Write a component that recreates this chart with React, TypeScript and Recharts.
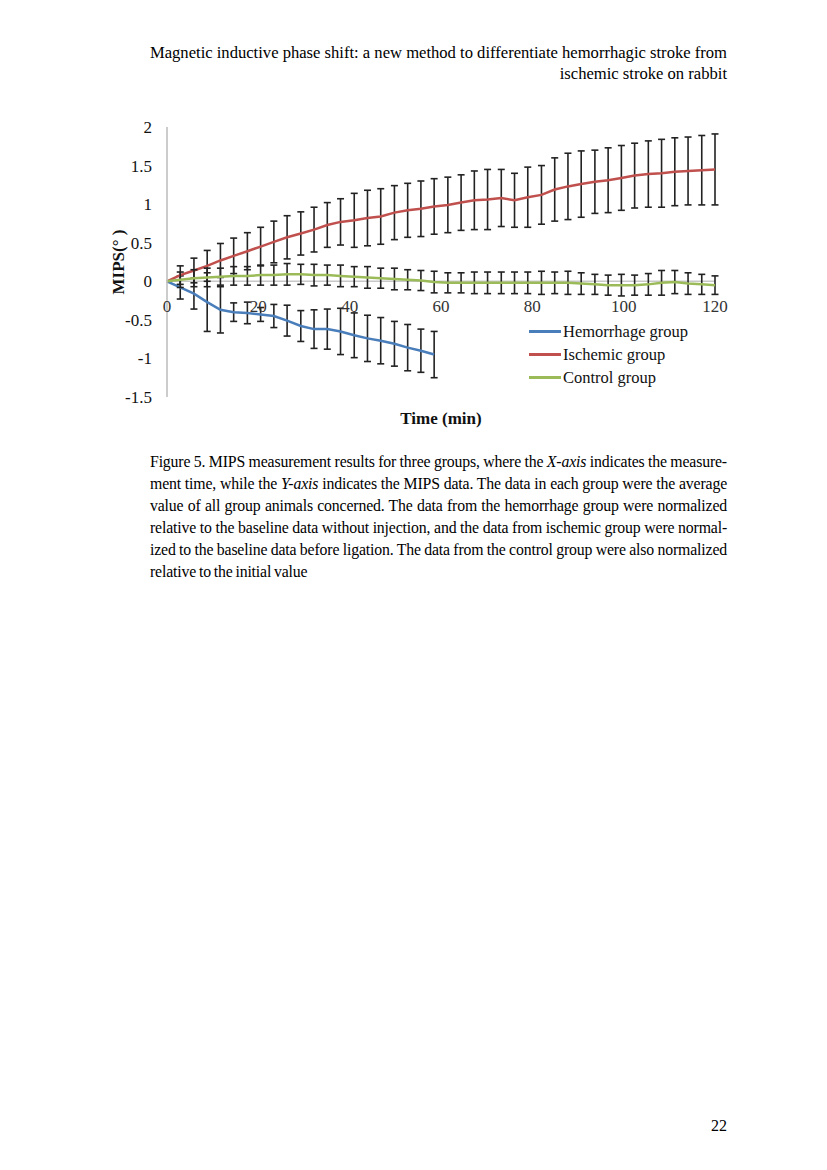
import React from "react";
import { LineChart, Line, XAxis, YAxis, ErrorBar, ReferenceLine, ReferenceDot, Legend } from "recharts";

// time of each measurement (min)
const timeMin = [0, 2.9, 5.9, 8.8, 11.7, 14.6, 17.6, 20.5, 23.4, 26.3, 29.3, 32.2, 35.1, 38.0, 41.0, 43.9, 46.8, 49.8, 52.7, 55.6, 58.5, 61.5, 64.4, 67.3, 70.2, 73.2, 76.1, 79.0, 82.0, 84.9, 87.8, 90.7, 93.7, 96.6, 99.5, 102.4, 105.4, 108.3, 111.2, 114.1, 117.1, 120];

const hemorrhage = [0, -0.08, -0.16, -0.27, -0.37, -0.40, -0.41, -0.43, -0.45, -0.51, -0.58, -0.62, -0.62, -0.65, -0.70, -0.74, -0.77, -0.81, -0.86, -0.90, -0.95];
const hemorrhageErr = [null, 0.15, 0.2, 0.38, 0.30, 0.12, 0.14, 0.09, 0.15, 0.20, 0.20, 0.25, 0.26, 0.30, 0.29, 0.30, 0.30, 0.29, 0.30, 0.28, 0.30];

const ischemic = [0, 0.08, 0.14, 0.20, 0.27, 0.33, 0.39, 0.45, 0.51, 0.57, 0.62, 0.67, 0.73, 0.77, 0.79, 0.82, 0.84, 0.89, 0.92, 0.94, 0.97, 0.99, 1.02, 1.05, 1.06, 1.08, 1.05, 1.09, 1.12, 1.19, 1.23, 1.26, 1.29, 1.31, 1.34, 1.37, 1.39, 1.40, 1.42, 1.43, 1.44, 1.45];
const ischemicErr = [null, 0.12, 0.16, 0.20, 0.22, 0.23, 0.24, 0.25, 0.27, 0.28, 0.28, 0.29, 0.29, 0.30, 0.35, 0.36, 0.36, 0.35, 0.35, 0.36, 0.36, 0.36, 0.36, 0.38, 0.39, 0.37, 0.35, 0.39, 0.38, 0.41, 0.43, 0.43, 0.41, 0.42, 0.42, 0.42, 0.43, 0.44, 0.44, 0.44, 0.45, 0.46];

const control = [0, 0.02, 0.04, 0.05, 0.06, 0.07, 0.07, 0.08, 0.08, 0.09, 0.09, 0.08, 0.08, 0.07, 0.06, 0.05, 0.04, 0.03, 0.02, 0.01, -0.01, -0.02, -0.02, -0.02, -0.02, -0.02, -0.02, -0.02, -0.02, -0.02, -0.02, -0.03, -0.04, -0.05, -0.05, -0.05, -0.04, -0.02, -0.01, -0.03, -0.04, -0.05];
const controlErr = [null, 0.10, 0.11, 0.12, 0.11, 0.12, 0.12, 0.13, 0.13, 0.14, 0.13, 0.14, 0.13, 0.14, 0.13, 0.14, 0.13, 0.14, 0.13, 0.13, 0.14, 0.13, 0.13, 0.14, 0.14, 0.14, 0.14, 0.14, 0.15, 0.14, 0.15, 0.14, 0.13, 0.13, 0.14, 0.13, 0.14, 0.16, 0.15, 0.14, 0.13, 0.12];

const xTicks = [0, 20, 40, 60, 80, 100, 120];
const yTicks = [-1.5, -1, -0.5, 0, 0.5, 1, 1.5, 2];

const seriesNames = ["Hemorrhage group", "Ischemic group", "Control group"];
const seriesColors = ["#4a7ebb", "#c0504d", "#9bbb59"];

const data = timeMin.map((t, i) => ({
  t,
  hem: hemorrhage[i],
  hemErr: hemorrhageErr[i],
  isc: ischemic[i],
  iscErr: ischemicErr[i],
  con: control[i],
  conErr: controlErr[i],
}));

const serif = "'Liberation Serif', 'DejaVu Serif', serif";

function renderLegend() {
  return (
    <div style={{ fontFamily: serif, fontSize: 16.5, color: "#111" }}>
      {seriesNames.map((n, i) => (
        <div key={n} style={{ display: "flex", alignItems: "center", height: 23 }}>
          <span style={{ display: "inline-block", width: 32, height: 2.5, background: seriesColors[i], marginRight: 2 }} />
          <span>{n}</span>
        </div>
      ))}
    </div>
  );
}

function MipsChart() {
  const errStyle = { stroke: "#222", strokeWidth: 1.6 };
  return (
    <LineChart width={740} height={340} data={data} margin={{ top: 19, right: 33, bottom: 21, left: 99 }}>
      <XAxis
        dataKey="t"
        type="number"
        domain={[0, 120]}
        ticks={xTicks}
        tick={false}
        axisLine={false}
        tickLine={false}
        height={30}
        label={{
          content: (p: any) => (
            <text x={p.viewBox.x + p.viewBox.width / 2} y={p.viewBox.y + 27} textAnchor="middle" fontFamily={serif} fontWeight="bold" fontSize={17} fill="#111">
              Time (min)
            </text>
          ),
        }}
      />
      <YAxis
        type="number"
        domain={[-1.5, 2]}
        ticks={yTicks}
        width={60}
        axisLine={{ stroke: "#bbb", strokeWidth: 1.5 }}
        tickLine={false}
        tickMargin={9}
        tick={{ fontFamily: serif, fontSize: 17, fill: "#111" }}
        label={{
          content: (p: any) => {
            const cx = p.viewBox.x + 11;
            const cy = p.viewBox.y + p.viewBox.height / 2;
            return (
              <text x={cx} y={cy} transform={`rotate(-90 ${cx} ${cy})`} textAnchor="middle" dominantBaseline="central" fontFamily={serif} fontWeight="bold" fontSize={17} fill="#111">
                MIPS(° )
              </text>
            );
          },
        }}
      />
      <ReferenceLine y={0} stroke="#c8c8c8" strokeWidth={1.5} />
      {xTicks.map((v) => (
        <ReferenceDot
          key={v}
          x={v}
          y={0}
          r={0}
          fill="none"
          stroke="none"
          label={{
            content: (p: any) => (
              <text x={p.viewBox.x} y={p.viewBox.y + 31} textAnchor="middle" fontFamily={serif} fontSize={17} fill="#333">
                {v}
              </text>
            ),
          }}
        />
      ))}
      <Line dataKey="hem" name={seriesNames[0]} stroke={seriesColors[0]} strokeWidth={2.5} dot={false} isAnimationActive={false}>
        <ErrorBar dataKey="hemErr" direction="y" width={3.5} {...errStyle} />
      </Line>
      <Line dataKey="isc" name={seriesNames[1]} stroke={seriesColors[1]} strokeWidth={2.5} dot={false} isAnimationActive={false}>
        <ErrorBar dataKey="iscErr" direction="y" width={3.5} {...errStyle} />
      </Line>
      <Line dataKey="con" name={seriesNames[2]} stroke={seriesColors[2]} strokeWidth={2.5} dot={false} isAnimationActive={false}>
        <ErrorBar dataKey="conErr" direction="y" width={3.5} {...errStyle} />
      </Line>
      <Legend
        content={renderLegend}
        layout="vertical"
        align="center"
        verticalAlign="middle"
        wrapperStyle={{ left: 521, top: 212, width: 200, bottom: "auto" }}
      />
    </LineChart>
  );
}

export default function App() {
  const line: React.CSSProperties = { textAlign: "justify", textAlignLast: "justify", whiteSpace: "nowrap" };
  return (
    <div style={{ position: "relative", width: 811, height: 1154, fontFamily: serif, color: "#000" }}>
      <div style={{ position: "absolute", right: 92, top: 34, fontSize: 16.6, lineHeight: "21px", textAlign: "right" }}>
        <div>Magnetic inductive phase shift: a new method to differentiate hemorrhagic stroke from</div>
        <div>ischemic stroke on rabbit</div>
      </div>
      <div style={{ position: "absolute", left: 0, top: 100 }}>
        <MipsChart />
      </div>
      <div style={{ position: "absolute", left: 142, top: 443, width: 577, fontSize: 15.8, lineHeight: "22px", letterSpacing: -0.15, wordSpacing: -1 }}>
        <div style={line}>
          Figure 5. MIPS measurement results for three groups, where the <i>X-axis</i> indicates the measure-
        </div>
        <div style={line}>
          ment time, while the <i>Y-axis</i> indicates the MIPS data. The data in each group were the average
        </div>
        <div style={line}>value of all group animals concerned. The data from the hemorrhage group were normalized</div>
        <div style={line}>relative to the baseline data without injection, and the data from ischemic group were normal-</div>
        <div style={line}>ized to the baseline data before ligation. The data from the control group were also normalized</div>
        <div style={{ whiteSpace: "nowrap" }}>relative to the initial value</div>
      </div>
      <div style={{ position: "absolute", right: 92, top: 1107, fontSize: 16, lineHeight: "21px" }}>22</div>
    </div>
  );
}
